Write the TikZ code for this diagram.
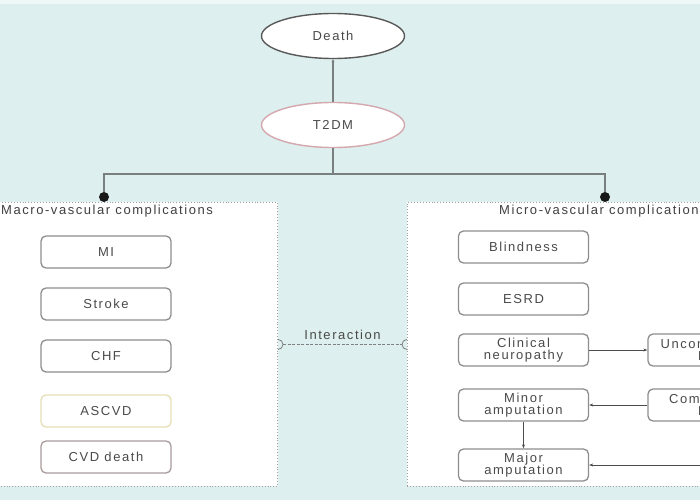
\documentclass[tikz,border=0pt]{standalone}
\usepackage{fontspec}
\setmainfont[LetterSpace=12]{Liberation Sans}
\usetikzlibrary{arrows.meta,shapes.geometric,calc}
\definecolor{bg}{HTML}{DDEFEE}
\definecolor{txt}{HTML}{4A4A4A}
\definecolor{boxc}{HTML}{8E8E8E}
\definecolor{linec}{HTML}{7A7F7F}
\definecolor{pinkc}{HTML}{D4A8AE}
\definecolor{yelc}{HTML}{E6DFB4}
\definecolor{cvdc}{HTML}{A89C9C}
\begin{document}
\begin{tikzpicture}[x=1pt,y=-1pt,
  box/.style={draw=boxc, line width=1.3pt, rounded corners=5pt, fill=white,
    minimum width=130pt, minimum height=32pt, align=center, inner sep=0pt,
    font=\fontsize{13}{12.5}\selectfont, text=txt},
  ell/.style={ellipse, draw=#1, line width=1.4pt, fill=white, minimum width=143pt,
    minimum height=45pt, inner sep=0pt, font=\fontsize{13}{13}\selectfont, text=txt},
  cont/.style={draw=gray!75, dotted, line width=0.9pt, fill=white, inner sep=0pt},
  ttl/.style={font=\fontsize{13}{13}\selectfont, text=black!75, inner sep=0pt},
  conn/.style={draw=linec, line width=1.6pt},
  arr/.style={draw=black!70, line width=0.6pt, -{Stealth[length=4pt,width=3pt]}},
  dot/.style={circle, fill=black!90, minimum size=10pt, inner sep=0pt}
]
\useasboundingbox (0,0) rectangle (700,500);
\clip (0,0) rectangle (700,500);
\fill[bg] (0,0) rectangle (700,500);
\fill[white!55!bg] (0,0) rectangle (700,4);

% top ellipses
\node[ell=black!65] (death) at (333,36) {Death};
\node[ell=pinkc] (t2dm) at (333,125) {T2DM};
\draw[conn, line width=1.4pt, -{Stealth[length=3pt,width=3pt]}] (t2dm) -- (death);

% containers
\node[cont, minimum width=300pt, minimum height=284pt, anchor=north east] (L) at (278,202) {};
\node[cont, minimum width=320pt, minimum height=284pt, anchor=north west] (R) at (407,202) {};
\node[ttl, anchor=west] (Lt) at (1,211) {Macro-vascular complications};
\node[ttl, anchor=west] (Rt) at (499,211) {Micro-vascular complications};

% branch dots and connectors
\node[dot] (d1) at (104,197) {};
\node[dot] (d2) at (605,197) {};
\coordinate (hub) at (333,174);
\draw[conn] (t2dm) -- (hub);
\draw[conn] (hub) -| (d1);
\draw[conn] (hub) -| (d2);

% left boxes
\node[box] (mi) at (106,252) {MI};
\node[box] (stroke) at (106,304) {Stroke};
\node[box] (chf) at (106,356) {CHF};
\node[box, draw=yelc] (ascvd) at (106,411) {ASCVD};
\node[box, draw=cvdc] (cvd) at (106,457) {CVD death};

% right boxes
\node[box] (blind) at (523.5,247) {Blindness};
\node[box] (esrd) at (523.5,299) {ESRD};
\node[box] (clin) at (523.5,350) {Clinical\\neuropathy};
\node[box] (minor) at (523.5,405) {Minor\\amputation};
\node[box] (major) at (523.5,465) {Major\\amputation};
\node[box] (unc) at (713,350) {Uncomplicated\\DFU};
\node[box] (comp) at (713,405) {Complicated\\DFU};
\coordinate (offr) at (720,465);

\draw[arr] (clin) -- (unc);
\draw[arr] (comp) -- (minor);
\draw[arr] (minor) -- (major);
\draw[arr] (offr) -- (major);

% interaction
\coordinate (ia) at ([xshift=5pt]L.east);
\coordinate (ib) at ([xshift=-5pt]R.west);
\draw[black!55, line width=0.7pt] ([yshift=5pt]L.east) arc[start angle=90, end angle=-90, radius=5pt];
\draw[black!55, line width=0.7pt] ([yshift=5pt]R.west) arc[start angle=90, end angle=270, radius=5pt];
\draw[black!50, dashed, dash pattern=on 3pt off 1.5pt, line width=0.6pt] (ia) -- (ib);
\node[ttl, text=txt, above=5pt] (inter) at ($(ia)!0.5!(ib)$) {Interaction};
\end{tikzpicture}
\end{document}
